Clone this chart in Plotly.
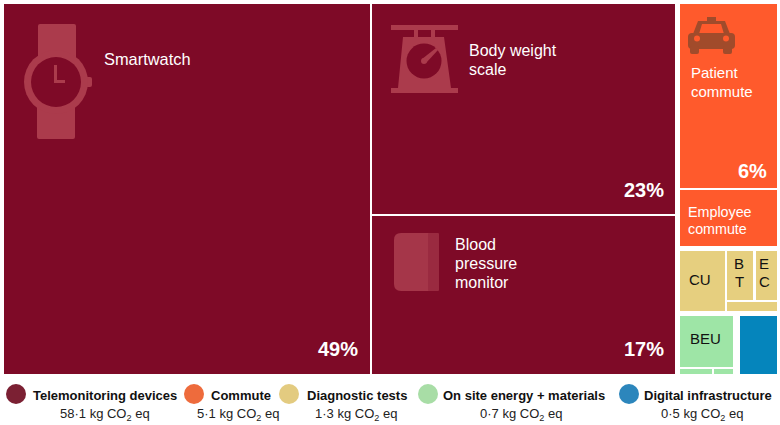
import plotly.graph_objects as go

# Leaf values, kg CO2 eq (estimated from tile areas)
tele_names = ["Smartwatch", "Body weight scale", "Blood pressure monitor"]
tele_values = [31.8, 15.0, 11.3]
commute_names = ["Patient commute", "Employee commute"]
commute_values = [4.34, 1.30]
diag_names = ["CU", "BT", "EC", "Other diagnostic"]
diag_values = [0.67, 0.34, 0.28, 0.11]
site_names = ["BEU", "Site other 1", "Site other 2"]
site_values = [0.73, 0.044, 0.026]
digital_names = ["Digital infrastructure"]
digital_values = [0.56]

percent_labels = ["49%", "23%", "17%", "6%"]
legend_names = ["Telemonitoring devices", "Commute", "Diagnostic tests",
                "On site energy + materials", "Digital infrastructure"]
legend_totals = ["58·1", "5·1", "1·3", "0·7", "0·5"]

BG = "#7E0A27"
ICON = "#AB3B4C"
ORANGE = "#FF5A2C"
TAN = "#E6CF7F"
GREEN = "#9EE5A6"
BLUE = "#0585BC"
LEGEND_COLORS = ["#7B2033", "#EE6B3C", "#E3CB80", "#A8DDA6", "#2C86BC"]
FONT = "Liberation Sans"


def total(node):
    if len(node) == 2:
        return node[1]
    return sum(total(k) for k in node[1])


def layout(node, x0, y0, x1, y1, out):
    """Slice-and-dice: node = (name, value) or (orientation, children, gap)."""
    if len(node) == 2:
        out[node[0]] = (x0, y0, x1, y1)
        return
    orient, kids, gap = node
    tot = sum(total(k) for k in kids)
    span = (x1 - x0 if orient == "h" else y1 - y0) - gap * (len(kids) - 1)
    pos = x0 if orient == "h" else y0
    for k in kids:
        s = span * total(k) / tot
        if orient == "h":
            layout(k, pos, y0, pos + s, y1, out)
        else:
            layout(k, x0, pos, x1, pos + s, out)
        pos += s + gap


T = list(zip(tele_names, tele_values))
C = list(zip(commute_names, commute_values))
D = list(zip(diag_names, diag_values))
S = list(zip(site_names, site_values))
B = list(zip(digital_names, digital_values))

tree = ("h", [
    ("h", [T[0], ("v", [T[1], T[2]], 2)], 2),
    ("v", [
        ("v", [C[0], C[1]], 2),
        ("h", [D[0], ("v", [("h", [D[1], D[2]], 3), D[3]], 2)], 2),
        ("h", [("v", [S[0], ("h", [S[1], S[2]], 2)], 2), B[0]], 7),
    ], 5),
], 5)

rects = {}
layout(tree, 4, 4, 777, 374, rects)

fig = go.Figure()
for names, vals, color, group in [
    (tele_names, tele_values, BG, legend_names[0]),
    (commute_names, commute_values, ORANGE, legend_names[1]),
    (diag_names, diag_values, TAN, legend_names[2]),
    (site_names, site_values, GREEN, legend_names[3]),
    (digital_names, digital_values, BLUE, legend_names[4]),
]:
    r = [rects[n] for n in names]
    fig.add_trace(go.Bar(
        x=[(a[0] + a[2]) / 2 for a in r],
        width=[a[2] - a[0] for a in r],
        base=[a[1] for a in r],
        y=[a[3] - a[1] for a in r],
        marker=dict(color=color, line=dict(width=0)),
        customdata=vals, hovertext=names, hoverinfo="text",
        name=group, showlegend=False,
    ))

# Legend dots
dot_x = [16, 194, 289, 428, 629]
fig.add_trace(go.Scatter(
    x=dot_x, y=[394] * 5, mode="markers", hoverinfo="skip", showlegend=False,
    marker=dict(size=20, color=LEGEND_COLORS, line=dict(width=0)),
))


def note(text, x, y, size, color="#000", anchor="left", bold=False):
    if bold:
        text = f"<b>{text}</b>"
    fig.add_annotation(x=x, y=y, text=text, showarrow=False, xref="x", yref="y",
                       xanchor=anchor, yanchor="middle", align=anchor,
                       font=dict(family=FONT, size=size, color=color),
                       borderpad=0, borderwidth=0)


label_white = "#FFFFFF"
note("Smartwatch", 104, 59, 16.4, label_white)
note("Body weight", 469, 50, 16, label_white)
note("scale", 469, 69, 16, label_white)
note("Blood", 455, 244, 16, label_white)
note("pressure", 455, 263, 16, label_white)
note("monitor", 455, 282, 16, label_white)
note("Patient", 691, 72, 15, label_white)
note("commute", 691, 91, 15, label_white)
note("Employee", 688, 212, 14.3, label_white)
note("commute", 688, 229, 14.3, label_white)

sw, bw, bp, pc = [rects[n] for n in (tele_names[0], tele_names[1], tele_names[2], commute_names[0])]
note(percent_labels[0], sw[2] - 12, 349, 20, label_white, "right", bold=True)
note(percent_labels[1], bw[2] - 11, 190, 20, label_white, "right", bold=True)
note(percent_labels[2], bp[2] - 11, 349, 20, label_white, "right", bold=True)
note(percent_labels[3], pc[2] - 10, 171, 20, label_white, "right", bold=True)

note("CU", 700, 279, 15, "#111", "center")
note("B", 739, 263, 15, "#111", "center")
note("T", 739, 281, 15, "#111", "center")
note("E", 764, 263, 15, "#111", "center")
note("C", 764, 281, 15, "#111", "center")
note("BEU", 705, 338, 15, "#111", "center")

name_x = [33, 211, 307, 443, 644]
total_x = [105, 238, 356, 521, 702]
for nm, tv, nx, tx in zip(legend_names, legend_totals, name_x, total_x):
    note(nm, nx, 395, 13, "#111", bold=True)
    note(f"{tv} kg CO<sub>2</sub> eq", tx, 414, 13, "#222", "center")

# Pictograms
shapes = []


def path(d, color=ICON):
    shapes.append(dict(type="path", path=d, fillcolor=color, line=dict(width=0),
                       xref="x", yref="y", layer="above"))


def rect(x0, y0, x1, y1, color=ICON):
    shapes.append(dict(type="rect", x0=x0, y0=y0, x1=x1, y1=y1, fillcolor=color,
                       line=dict(width=0), xref="x", yref="y", layer="above"))


def circ(cx, cy, r, color=ICON):
    shapes.append(dict(type="circle", x0=cx - r, y0=cy - r, x1=cx + r, y1=cy + r,
                       fillcolor=color, line=dict(width=0), xref="x", yref="y", layer="above"))


def rrect(x0, y0, x1, y1, r, color=ICON):
    path(f"M{x0+r},{y0} L{x1-r},{y0} Q{x1},{y0} {x1},{y0+r} L{x1},{y1-r} Q{x1},{y1} {x1-r},{y1} "
         f"L{x0+r},{y1} Q{x0},{y1} {x0},{y1-r} L{x0},{y0+r} Q{x0},{y0} {x0+r},{y0} Z", color)


# Watch
rrect(38, 24, 76, 60, 2)
rrect(37, 104, 75, 139, 2)
rrect(85, 77, 92, 87, 2)
circ(56, 82, 32)
circ(56, 82, 25, BG)
rect(54, 65, 57, 83)
rect(54, 80, 65, 83)
# Scale
rect(391, 25, 458, 30)
rect(414, 30, 418, 37)
rect(431, 30, 435, 37)
path("M403,37 L444,37 L451,88 L458,88 L458,93 L391,93 L391,88 L398,88 Z")
circ(424, 61, 17.5, BG)
path("M422,59 L436,48 L438,50 L426,63 Z")
circ(424, 61, 3)
# Blood pressure cuff
rrect(394, 233, 436, 291, 7, "#A53649")
rrect(428, 233, 439, 291, 1, "#9A2A40")
# Taxi
TAXI = "#A14B2B"
rect(707, 17, 716, 22, TAXI)
path("M698,21 L725,21 L730,34 L693,34 Z", TAXI)
path("M702,24 L721,24 L724,34 L699,34 Z", ORANGE)
rrect(688, 33, 735, 49, 4, TAXI)
rrect(690, 46, 699, 54, 2, TAXI)
rrect(723, 46, 732, 54, 2, TAXI)
circ(697, 38.5, 3, ORANGE)
circ(726, 38.5, 3, ORANGE)

fig.update_layout(
    width=780, height=425, margin=dict(l=0, r=0, t=0, b=0),
    plot_bgcolor="white", paper_bgcolor="white", barmode="overlay", bargap=0,
    xaxis=dict(range=[0, 780], visible=False, fixedrange=True),
    yaxis=dict(range=[425, 0], visible=False, fixedrange=True),
    shapes=shapes, hovermode="closest",
)
fig.write_html("out.html", config={"displayModeBar": False},
               post_script="document.body.style.margin='0';document.body.style.overflow='hidden';")
